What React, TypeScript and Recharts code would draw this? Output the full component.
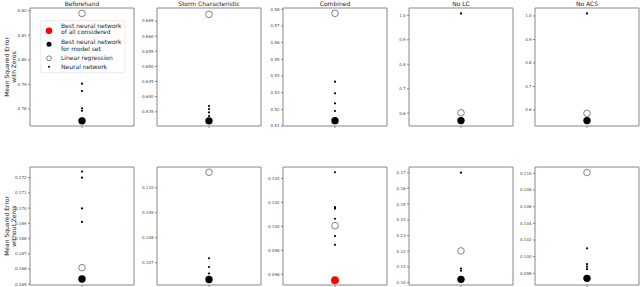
import React from "react";
import { ScatterChart, Scatter, XAxis, YAxis, ReferenceArea } from "recharts";

const titles = ["Beforehand", "Storm Characteristic", "Combined", "No LC", "No ACS"];
const rowLabels = [
  ["Mean Squared Error", "with Zeros"],
  ["Mean Squared Error", "without Zeros"],
];

// Row 1: Mean Squared Error with Zeros
const withZerosTickLabels = [
  ["0.78", "0.79", "0.80", "0.81", "0.82"],
  ["0.635", "0.640", "0.645", "0.650", "0.655", "0.660", "0.665"],
  ["0.51", "0.52", "0.53", "0.54", "0.55", "0.56", "0.57", "0.58"],
  ["0.6", "0.7", "0.8", "0.9", "1.0"],
  ["0.6", "0.7", "0.8", "0.9", "1.0"],
];
const withZerosDomains = [
  [0.7731, 0.8211],
  [0.6303, 0.6693],
  [0.51, 0.5808],
  [0.548, 1.03],
  [0.532, 1.034],
];
const withZerosLinear = [0.8189, 0.6672, 0.5776, 0.602, 0.586];
const withZerosBest = [0.7752, 0.632, 0.5132, 0.57, 0.555];
const withZerosBestOverall = [false, false, false, false, false];
const withZerosNeural = [
  [0.7903, 0.7873, 0.7803, 0.7793, 0.776],
  [0.6369, 0.6359, 0.6348, 0.6336],
  [0.5366, 0.5296, 0.5236, 0.519],
  [1.008, 0.575],
  [1.011, 0.56],
];

// Row 2: Mean Squared Error without Zeros
const withoutZerosTickLabels = [
  ["0.165", "0.166", "0.167", "0.168", "0.169", "0.170", "0.171", "0.172"],
  ["0.107", "0.108", "0.109", "0.110"],
  ["0.096", "0.098", "0.100", "0.102", "0.104"],
  ["0.10", "0.11", "0.12", "0.13", "0.14", "0.15", "0.16", "0.17"],
  ["0.098", "0.100", "0.102", "0.104", "0.106", "0.108", "0.110"],
];
const withoutZerosDomains = [
  [0.16495, 0.1727],
  [0.10611, 0.11083],
  [0.0951, 0.10495],
  [0.0985, 0.1736],
  [0.0966, 0.11076],
];
const withoutZerosLinear = [0.16609, 0.11062, 0.10005, 0.1202, 0.1101];
const withoutZerosBest = [0.16534, 0.10633, 0.0955, 0.1021, 0.0974];
const withoutZerosBestOverall = [false, false, true, false, false];
const withoutZerosNeural = [
  [0.1724, 0.172, 0.16998, 0.16909],
  [0.10718, 0.10683, 0.10657],
  [0.10451, 0.1016, 0.10147, 0.10063, 0.09918, 0.09845],
  [0.17, 0.109, 0.1076],
  [0.101, 0.0991, 0.0988, 0.0985],
];

const legendItems = [
  ["Best neural network", "of all considered"],
  ["Best neural network", "for model set"],
  ["Linear regression"],
  ["Neural network"],
];

const FONT = "DejaVu Sans, sans-serif";
const PLOT_LEFTS = [30, 157, 283, 409, 535];
const PLOT_TOPS = [8, 167];
const PLOT_W = 104;
const PLOT_H = 118;
const AXIS_W = 30;
const M_TOP = 10;
const X_H = 4;

const smallDot = (p: any) => <circle cx={p.cx} cy={p.cy} r={1.1} fill="#000" />;
const openCircle = (p: any) => (
  <circle cx={p.cx} cy={p.cy} r={3.3} fill="#fff" stroke="#333" strokeWidth={0.6} />
);
const bigBlack = (p: any) => <circle cx={p.cx} cy={p.cy} r={3.7} fill="#000" />;
const bigRed = (p: any) => (
  <circle cx={p.cx} cy={p.cy} r={3.8} fill="#f00" stroke="#c00" strokeWidth={0.4} />
);

function Panel(props: {
  left: number;
  top: number;
  labels: string[];
  domain: number[];
  neural: number[];
  linear: number;
  best: number;
  bestOverall: boolean;
}) {
  const { left, top, labels, domain, neural, linear, best, bestOverall } = props;
  const W = AXIS_W + PLOT_W + 2;
  const H = M_TOP + PLOT_H + X_H + 1;
  const ticks = labels.map((s) => parseFloat(s));
  const fmt = (v: number) => {
    let bi = 0;
    ticks.forEach((t, i) => {
      if (Math.abs(t - v) < Math.abs(ticks[bi] - v)) bi = i;
    });
    return labels[bi];
  };
  const neuralData = neural.map((y) => ({ x: 0, y }));
  const linearData = [{ x: 0, y: linear }];
  const bestData = [{ x: 0, y: best }];
  return (
    <div style={{ position: "absolute", left: left - AXIS_W, top: top - M_TOP, width: W, height: H }}>
      <ScatterChart width={W} height={H} margin={{ top: M_TOP, right: 2, bottom: 1, left: 0 }}>
        <XAxis
          type="number"
          dataKey="x"
          domain={[-1, 1]}
          ticks={[0]}
          height={X_H}
          tickSize={2}
          tickFormatter={() => ""}
          axisLine={false}
          tickLine={{ stroke: "#444", strokeWidth: 0.6 }}
          tick={{ fontSize: 1 }}
        />
        <YAxis
          type="number"
          dataKey="y"
          domain={domain}
          allowDataOverflow
          ticks={ticks}
          interval={0}
          width={AXIS_W}
          tickSize={2}
          tickMargin={1.5}
          axisLine={false}
          tickLine={{ stroke: "#444", strokeWidth: 0.6 }}
          tick={{ fontSize: 4, fill: "#444", fontFamily: FONT }}
          tickFormatter={fmt}
        />
        <ReferenceArea
          x1={-1}
          x2={1}
          y1={domain[0]}
          y2={domain[1]}
          fill="none"
          stroke="#888"
          strokeWidth={1}
          ifOverflow="visible"
        />
        <Scatter name="Neural network" data={neuralData} shape={smallDot} isAnimationActive={false} />
        <Scatter name="Linear regression" data={linearData} shape={openCircle} isAnimationActive={false} />
        <Scatter
          name={bestOverall ? "Best neural network of all considered" : "Best neural network for model set"}
          data={bestData}
          shape={bestOverall ? bigRed : bigBlack}
          isAnimationActive={false}
        />
      </ScatterChart>
    </div>
  );
}

export default function App() {
  const rows = [
    {
      labels: withZerosTickLabels,
      domains: withZerosDomains,
      neural: withZerosNeural,
      linear: withZerosLinear,
      best: withZerosBest,
      overall: withZerosBestOverall,
    },
    {
      labels: withoutZerosTickLabels,
      domains: withoutZerosDomains,
      neural: withoutZerosNeural,
      linear: withoutZerosLinear,
      best: withoutZerosBest,
      overall: withoutZerosBestOverall,
    },
  ];
  const legendBaselines = [
    [27.7, 34.2],
    [44.4, 50.9],
    [60.4],
    [69.4],
  ];
  return (
    <div
      style={{
        position: "absolute",
        left: 0,
        top: 0,
        width: 640,
        height: 287,
        overflow: "hidden",
        background: "#fff",
      }}
    >
      {rows.map((row, r) =>
        titles.map((_, c) => (
          <Panel
            key={r + "-" + c}
            left={PLOT_LEFTS[c]}
            top={PLOT_TOPS[r]}
            labels={row.labels[c]}
            domain={row.domains[c]}
            neural={row.neural[c]}
            linear={row.linear[c]}
            best={row.best[c]}
            bestOverall={row.overall[c]}
          />
        ))
      )}
      <svg
        width={640}
        height={287}
        style={{ position: "absolute", left: 0, top: 0, pointerEvents: "none" }}
      >
        {titles.map((t, c) => (
          <text
            key={t}
            x={PLOT_LEFTS[c] + PLOT_W / 2}
            y={6}
            textAnchor="middle"
            fontSize={6}
            fontFamily={FONT}
            fill="#222"
          >
            {t}
          </text>
        ))}
        {rowLabels.map((lines, r) => {
          const cy = PLOT_TOPS[r] + PLOT_H / 2;
          return lines.map((line, i) => {
            const x = i === 0 ? 9 : 15.5;
            return (
              <text
                key={r + "-" + i}
                x={x}
                y={cy}
                transform={`rotate(-90 ${x} ${cy})`}
                textAnchor="middle"
                fontSize={6}
                fontFamily={FONT}
                fill="#222"
              >
                {line}
              </text>
            );
          });
        })}
        <rect
          x={40.7}
          y={20.7}
          width={84.3}
          height={52}
          rx={1.5}
          fill="#fff"
          fillOpacity={0.85}
          stroke="#ddd"
          strokeWidth={0.6}
        />
        <circle cx={49} cy={30.7} r={3.3} fill="#f00" />
        <circle cx={49} cy={44.3} r={2.5} fill="#000" />
        <circle cx={49} cy={58.3} r={2.4} fill="#fff" stroke="#333" strokeWidth={0.6} />
        <circle cx={49} cy={66.8} r={1} fill="#000" />
        {legendItems.map((lines, i) =>
          lines.map((line, j) => (
            <text
              key={i + "-" + j}
              x={61}
              y={legendBaselines[i][j]}
              fontSize={6}
              fontFamily={FONT}
              fill="#222"
            >
              {line}
            </text>
          ))
        )}
      </svg>
    </div>
  );
}
